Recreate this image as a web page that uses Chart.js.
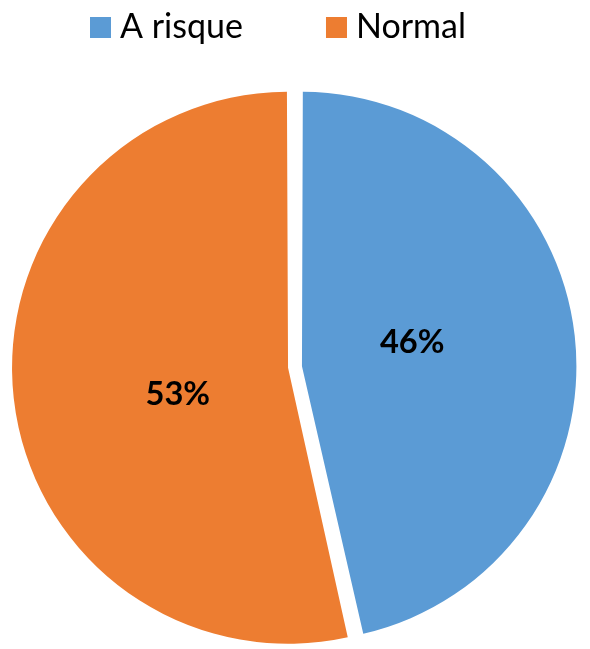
<!DOCTYPE html>
<html><head><meta charset="utf-8">
<script src="https://cdn.jsdelivr.net/npm/chart.js@4/dist/chart.umd.min.js"></script>
<style>html,body{margin:0;padding:0;background:#fff;overflow:hidden}#wrap{position:relative;width:590px;height:649px}</style>
</head><body><div id="wrap"><canvas id="c"></canvas></div>
<script>
const categories = ['A risque', 'Normal'];
const values = [46, 53];
const percentLabels = ['46%', '53%'];
const colors = ['#5B9BD5', '#ED7D31'];

const FONT = 'Lato';
function fitSize(ctx, text, weight, target) {
  ctx.font = weight + ' 100px ' + FONT;
  return 100 * target / ctx.measureText(text).width;
}
function fitHeight(ctx, glyph, weight, target) {
  ctx.font = weight + ' 100px ' + FONT;
  return 100 * target / ctx.measureText(glyph).actualBoundingBoxAscent;
}

const legendPlugin = {
  id: 'customLegend',
  afterDraw(chart) {
    const ctx = chart.ctx;
    ctx.save();
    const size = fitSize(ctx, 'A risque', 'normal', 123);
    ctx.font = 'normal ' + size + 'px ' + FONT;
    ctx.textBaseline = 'alphabetic';
    ctx.textAlign = 'left';
    let x = 90;
    const boxY = 17, box = 21, base = 37.5;
    chart.data.labels.forEach((lab, i) => {
      ctx.fillStyle = chart.data.datasets[0].backgroundColor[i];
      ctx.fillRect(x, boxY, box, box);
      ctx.fillStyle = '#000';
      ctx.fillText(lab, x + box + 9, base);
      x += box + 9 + ctx.measureText(lab).width + 83;
    });
    ctx.restore();
  }
};

const labelPlugin = {
  id: 'sliceLabels',
  afterDatasetsDraw(chart) {
    const ctx = chart.ctx;
    const meta = chart.getDatasetMeta(0);
    ctx.save();
    const size = Math.min(fitHeight(ctx, '4', 'bold', 23.5), fitSize(ctx, '46%', 'bold', 65));
    ctx.font = 'bold ' + size + 'px ' + FONT;
    ctx.fillStyle = '#000';
    ctx.textAlign = 'center';
    ctx.textBaseline = 'alphabetic';
    const capH = ctx.measureText('4').actualBoundingBoxAscent;
    meta.data.forEach((arc, i) => {
      const p = arc.getProps(['x', 'y', 'startAngle', 'endAngle', 'outerRadius'], true);
      const mid = (p.startAngle + p.endAngle) / 2;
      const vx = p.x + Math.cos(mid) * 7, vy = p.y + Math.sin(mid) * 7;
      const a = mid - 0.11;
      const d = p.outerRadius * 0.42;
      const lx = vx + Math.cos(a) * d, ly = vy + Math.sin(a) * d;
      ctx.fillText(percentLabels[i], lx, ly + capH / 2);
    });
    ctx.restore();
  }
};

new Chart(document.getElementById('c'), {
  type: 'pie',
  data: {
    labels: categories,
    datasets: [{
      data: values,
      backgroundColor: colors,
      borderWidth: 0,
      offset: [28, 28]
    }]
  },
  options: {
    responsive: true,
    maintainAspectRatio: false,
    animation: false,
    radius: 269,
    layout: { padding: { top: 85, bottom: 0, left: 0, right: 0 } },
    plugins: { legend: { display: false }, tooltip: { enabled: false } }
  },
  plugins: [legendPlugin, labelPlugin]
});
</script>
</body></html>
